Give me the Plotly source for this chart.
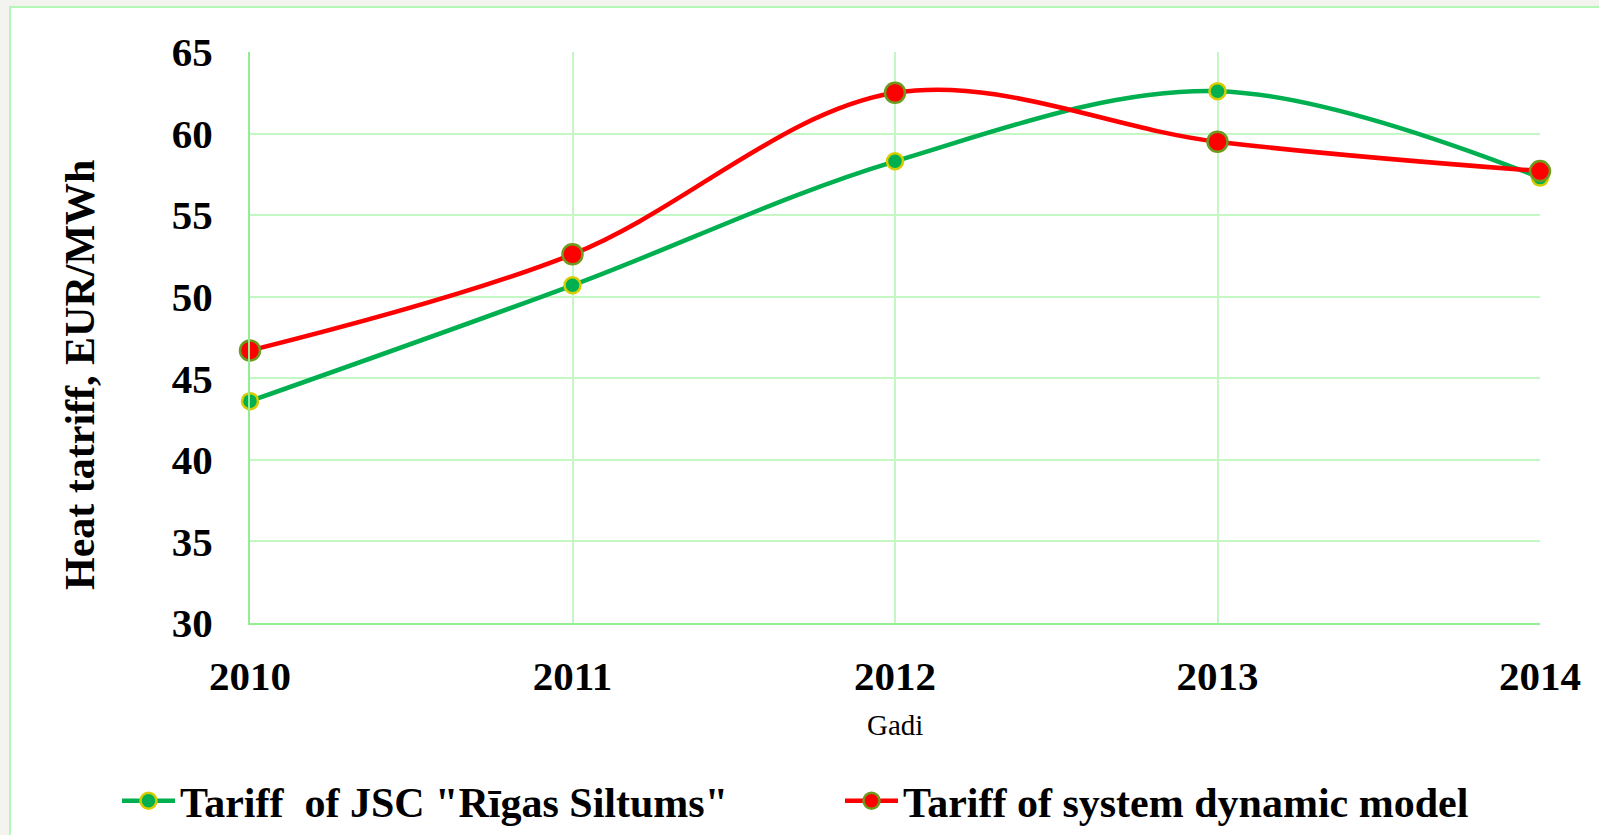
import plotly.graph_objects as go

years = [2010, 2011, 2012, 2013, 2014]
tariff_rigas = [43.6, 50.7, 58.3, 62.6, 57.3]
tariff_model = [46.7, 52.6, 62.5, 59.5, 57.7]
name_rigas = 'Tariff\u00a0 of JSC "Rīgas Siltums"'
name_model = 'Tariff of system dynamic model'
y_title = "Heat tatriff, EUR/MWh"
x_title = "Gadi"

W, H = 1599, 835
L, R, T, B = 250, 59, 52, 212
pw, ph = W - L - R, H - T - B

def px(x):
    return (x - L) / pw

def py(y):
    return (H - B - y) / ph

FONT = "Liberation Serif"
GRID = "#C4F7C4"
AXIS = "#93EE93"

fig = go.Figure()
fig.add_trace(go.Scatter(
    x=years, y=tariff_rigas, name=name_rigas, mode="lines+markers",
    line=dict(color="#00B050", width=4.5, shape="spline", smoothing=1),
    marker=dict(size=16, color="#00B050", line=dict(color="#D6CC00", width=2.5)),
    cliponaxis=False,
))
fig.add_trace(go.Scatter(
    x=years, y=tariff_model, name=name_model, mode="lines+markers",
    line=dict(color="#FF0000", width=4.5, shape="spline", smoothing=1),
    marker=dict(size=20, color="#FF0000", line=dict(color="#6E9A1E", width=2.5)),
    cliponaxis=False,
))

fig.update_layout(
    width=W, height=H, autosize=False,
    margin=dict(l=L, r=R, t=T, b=B, pad=0, autoexpand=False),
    paper_bgcolor="#F3F3EF",
    plot_bgcolor="white",
    font=dict(family=FONT, color="black"),
    showlegend=True,
    legend=dict(
        orientation="h", x=px(117), xanchor="left", y=py(H), yanchor="bottom",
        font=dict(family=FONT, size=42, weight="bold"),
        bgcolor="rgba(0,0,0,0)", entrywidth=655, itemwidth=53,
    ),
    xaxis=dict(
        range=[2010, 2014], tickvals=years, ticktext=[str(y) for y in years],
        tickfont=dict(family=FONT, size=41, weight="bold"),
        showgrid=True, gridcolor=GRID, gridwidth=2,
        showline=True, linecolor=AXIS, linewidth=2,
        zeroline=False, ticks="", ticklabelstandoff=16, automargin=False,
    ),
    yaxis=dict(
        range=[30, 65], dtick=5, tick0=30,
        tickfont=dict(family=FONT, size=41, weight="bold"),
        showgrid=True, gridcolor=GRID, gridwidth=2,
        showline=True, linecolor=AXIS, linewidth=2,
        zeroline=False, ticks="", ticklabelstandoff=27, automargin=False,
    ),
    shapes=[
        dict(type="rect", xref="paper", yref="paper", layer="below",
             x0=px(10), x1=px(W + 20), y0=py(H + 20), y1=py(7),
             fillcolor="white", line=dict(color="#B5F5B5", width=2)),
    ],
    annotations=[
        dict(text=y_title, textangle=-90, xref="paper", yref="paper",
             x=px(80), y=py(375), xanchor="center", yanchor="middle",
             showarrow=False, font=dict(family=FONT, size=42, weight="bold")),
        dict(text=x_title, xref="paper", yref="paper",
             x=px(895), y=py(725), xanchor="center", yanchor="middle",
             showarrow=False, font=dict(family=FONT, size=29)),
    ],
)

fig.write_html("out.html")
